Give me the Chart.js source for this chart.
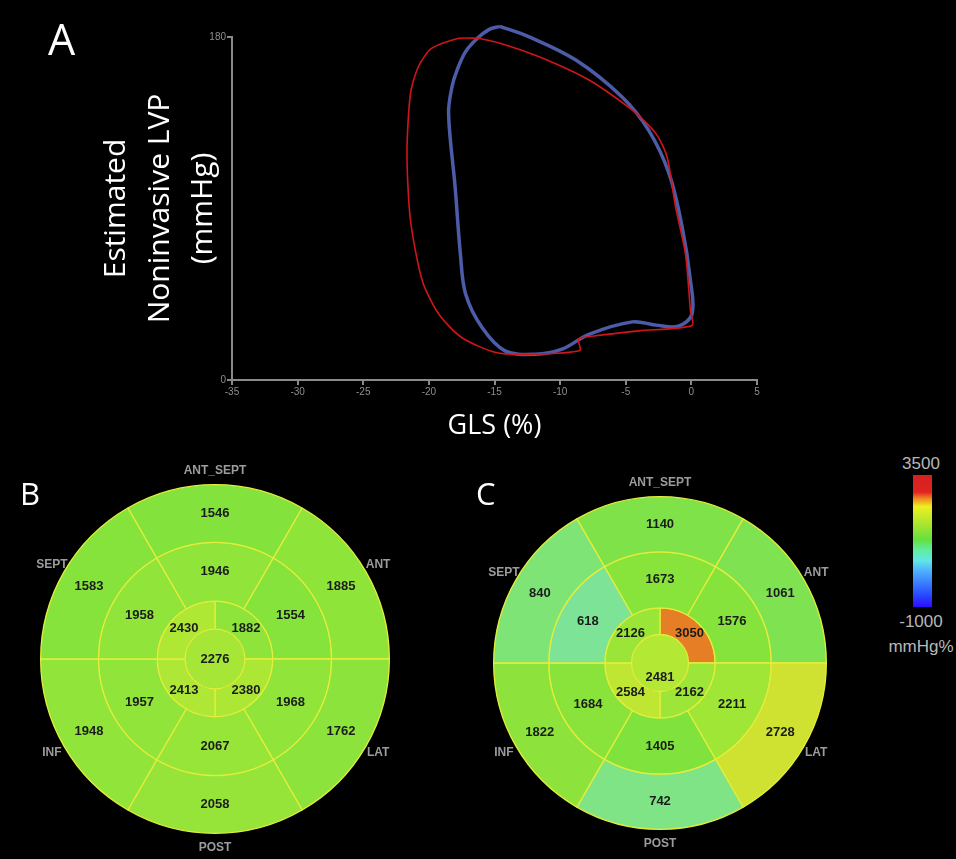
<!DOCTYPE html>
<html>
<head>
<meta charset="utf-8">
<script src="https://cdn.jsdelivr.net/npm/chart.js@4.4.1/dist/chart.umd.min.js"></script>
<style>
  body { margin: 0; background: #000; width: 956px; height: 859px; position: relative; overflow: hidden; }
  canvas { position: absolute; }
  .panel { position: absolute; color: #fff; font-family: "Open Sans", sans-serif; line-height: 1; }
  .cb { position: absolute; left: 871px; width: 100px; text-align: center; color: #b8b8b8;
        font-family: "Liberation Sans", Arial, sans-serif; font-size: 17px; line-height: 1; }
</style>
</head>
<body>
<canvas id="loopChart" width="956" height="450" style="left:0;top:0"></canvas>
<canvas id="bullB" width="420" height="400" style="left:5px;top:459px"></canvas>
<canvas id="bullC" width="400" height="374" style="left:460px;top:476px"></canvas>
<canvas id="colorBar" width="19" height="132" style="left:913px;top:475px"></canvas>

<div class="panel" style="left:48px;top:17px;font-size:43px">A</div>
<div class="panel" style="left:20px;top:478px;font-size:31px">B</div>
<div class="panel" style="left:476px;top:478px;font-size:31px">C</div>
<div class="cb" style="top:455px">3500</div>
<div class="cb" style="top:613px">-1000</div>
<div class="cb" style="top:638px">mmHg%</div>

<script>
// pressure-strain loops (GLS %, LVP mmHg), traced clockwise from the top
const redGLS = [-16.2, -14.7, -11.6, -7.8, -4.5, -2.7, -1.85, -1.2, -0.45, -0.07, 0.05, -4.0, -7.3, -8.6, -8.5, -12.4, -14.9, -17.5, -19.25, -20.5, -21.4, -21.67, -21.4, -20.8, -19.8, -17.7, -16.2];
const redLVP = [179.3, 177, 169.6, 157.4, 141.6, 129.3, 117, 90.7, 66.2, 36.3, 28.6, 25.8, 23.2, 21.5, 15.5, 13.5, 14.4, 22.3, 34.6, 52.1, 83.7, 118.8, 150.4, 164.4, 174, 179.3, 179.3];
const blueGLS = [-14.6, -12.4, -8.8, -5.3, -3.25, -1.7, -0.7, -0.07, 0.05, -1.0, -2.7, -4.5, -7.8, -9.85, -11.9, -14.2, -15.95, -17.2, -17.6, -18.0, -18.5, -18.24, -17.85, -17.2, -16.3, -15.4, -14.6];
const blueLVP = [185.6, 180.2, 167.9, 148.6, 131, 108.3, 80.2, 52.1, 34.6, 28.2, 28.8, 30.5, 24.0, 16.2, 13.5, 15.3, 27.5, 45.1, 66.2, 101.2, 139.8, 153.8, 162.6, 172.3, 179.3, 184, 185.6];
const glsTicks = [-35, -30, -25, -20, -15, -10, -5, 0, 5];
const lvpTicks = [0, 180];

// 17-segment bullseye values (mmHg%), each ring clockwise from the top
const wallNames = ['ANT_SEPT', 'ANT', 'LAT', 'POST', 'INF', 'SEPT'];
const basalB = [1546, 1885, 1762, 2058, 1948, 1583];
const midB = [1946, 1554, 1968, 2067, 1957, 1958];
const apicalB = [1882, 2380, 2413, 2430];
const apexB = [2276];
const basalC = [1140, 1061, 2728, 742, 1822, 840];
const midC = [1673, 1576, 2211, 1405, 1684, 618];
const apicalC = [3050, 2162, 2584, 2126];
const apexC = [2481];
const heatRange = [-1000, 3500];

const heatStops = [
  [-1000, '#2a10ff'], [0, '#60c0ff'], [500, '#7ce4a8'], [800, '#7ee47c'], [1100, '#7ee24a'], [1400, '#80e23c'],
  [2000, '#92e43a'], [2500, '#b4e834'], [2800, '#d8e030'], [3100, '#e86a22'], [3500, '#d41a1a']
];
function hexRgb(h) { return [1, 3, 5].map(i => parseInt(h.slice(i, i + 2), 16)); }
function heat(v) {
  for (let i = 1; i < heatStops.length; i++) {
    if (v <= heatStops[i][0]) {
      const [v0, c0] = heatStops[i - 1], [v1, c1] = heatStops[i];
      const t = Math.max(0, (v - v0) / (v1 - v0));
      const a = hexRgb(c0), b = hexRgb(c1);
      return 'rgb(' + a.map((x, k) => Math.round(x + (b[k] - x) * t)).join(',') + ')';
    }
  }
  return heatStops[heatStops.length - 1][1];
}

Chart.defaults.font.family = '"Liberation Sans", Arial, sans-serif';

new Chart(document.getElementById('loopChart'), {
  type: 'scatter',
  data: {
    datasets: [{
      data: redGLS.map((x, i) => ({x: x, y: redLVP[i]})),
      showLine: true, borderColor: '#d0161b', borderWidth: 1.6, pointRadius: 0, tension: 0.25, clip: false
    }, {
      data: blueGLS.map((x, i) => ({x: x, y: blueLVP[i]})),
      showLine: true, borderColor: '#4d5ca8', borderWidth: 3.5, pointRadius: 0, tension: 0.35, clip: false
    }]
  },
  options: {
    responsive: false,
    animation: false,
    layout: { padding: { left: 90, right: 199, top: 37, bottom: 0 } },
    plugins: { legend: { display: false }, tooltip: { enabled: false } },
    scales: {
      x: {
        type: 'linear', min: glsTicks[0], max: glsTicks[glsTicks.length - 1],
        afterBuildTicks: s => { s.ticks = glsTicks.map(v => ({value: v})); },
        afterFit: s => { s.height = 70; },
        ticks: { color: '#8e8e8e', font: { size: 10 }, padding: 1 },
        grid: { drawOnChartArea: false, drawTicks: true, tickLength: 5, color: '#8a8a8a', lineWidth: 2 },
        border: { color: '#8a8a8a', width: 2 },
        title: { display: true, text: 'GLS (%)', color: '#fff',
                 font: { family: '"Open Sans", sans-serif', size: 27 }, padding: { top: 0, bottom: 7 } }
      },
      y: {
        type: 'linear', min: lvpTicks[0], max: lvpTicks[1],
        afterBuildTicks: s => { s.ticks = lvpTicks.map(v => ({value: v})); },
        afterFit: s => { s.width = 142; },
        ticks: { color: '#8e8e8e', font: { size: 10 }, padding: 1 },
        grid: { drawOnChartArea: false, drawTicks: true, tickLength: 5, color: '#8a8a8a', lineWidth: 2 },
        border: { color: '#8a8a8a', width: 2 },
        title: { display: true, text: ['Estimated', 'Noninvasive LVP', '(mmHg)'], color: '#fff',
                 font: { family: '"Open Sans", sans-serif', size: 30, lineHeight: 1.45 }, padding: { top: 5, bottom: 0 } }
      }
    }
  }
});

// wall names behind the disc, segment values on top of it
const bullseyeText = {
  id: 'bullseyeText',
  beforeDatasetsDraw(chart) {
    const arc = chart.getDatasetMeta(0).data[0];
    const ctx = chart.ctx;
    const r = arc.outerRadius + 14;
    ctx.save();
    ctx.font = 'bold 12px "Liberation Sans", Arial, sans-serif';
    ctx.fillStyle = '#9c9c9c';
    ctx.textAlign = 'center';
    ctx.textBaseline = 'middle';
    wallNames.forEach((name, i) => {
      const a = i * Math.PI / 3;
      ctx.fillText(name, arc.x + r * Math.sin(a), arc.y - r * Math.cos(a));
    });
    ctx.restore();
  },
  afterDatasetsDraw(chart) {
    const ctx = chart.ctx;
    ctx.save();
    ctx.font = 'bold 13px "Liberation Sans Narrow", "Liberation Sans", Arial, sans-serif';
    ctx.fillStyle = '#1c1c1c';
    ctx.textAlign = 'center';
    ctx.textBaseline = 'middle';
    chart.data.datasets.forEach((ds, d) => {
      chart.getDatasetMeta(d).data.forEach((el, i) => {
        const p = el.innerRadius === 0 ? {x: el.x, y: el.y} : el.tooltipPosition();
        ctx.fillText(String(ds.values[i]), p.x, p.y);
      });
    });
    ctx.restore();
  }
};

function ring(vals, rotation, weight, bw) {
  return {
    data: vals.map(() => 1), // equal-sized segments
    values: vals,
    rotation: rotation,
    weight: weight,
    backgroundColor: vals.map(heat),
    borderColor: '#e4ee3a',
    borderWidth: bw
  };
}

function bullseye(id, basal, mid, apical, apex, pad) {
  return new Chart(document.getElementById(id), {
    type: 'doughnut',
    data: {
      datasets: [ring(basal, -30, 58, 1.3), ring(mid, -30, 59, 1.3), ring(apical, 0, 28, 1.3), ring(apex, 0, 30, 0)]
    },
    options: {
      responsive: false,
      animation: false,
      cutout: 0,
      layout: { padding: pad },
      plugins: { legend: { display: false }, tooltip: { enabled: false } }
    },
    plugins: [bullseyeText]
  });
}

bullseye('bullB', basalB, midB, apicalB, apexB, { left: 35, right: 35, top: 25, bottom: 25 });
bullseye('bullC', basalC, midC, apicalC, apexC, { left: 33, right: 33, top: 20, bottom: 20 });

// colour scale
const barStops = [[0, '#2e0cff'], [0.1, '#2850ff'], [0.28, '#50b4ff'], [0.35, '#60e6e6'], [0.43, '#60eca0'],
  [0.51, '#64e040'], [0.61, '#a0e430'], [0.76, '#eef020'], [0.82, '#f08c20'], [0.87, '#e02420'], [1, '#d42020']];
new Chart(document.getElementById('colorBar'), {
  type: 'bar',
  data: {
    labels: ['mmHg%'],
    datasets: [{
      data: [heatRange],
      backgroundColor: c => {
        const a = c.chart.chartArea;
        if (!a) return '#7fe23e';
        const g = c.chart.ctx.createLinearGradient(0, a.bottom, 0, a.top);
        barStops.forEach(s => g.addColorStop(s[0], s[1]));
        return g;
      },
      borderWidth: 0,
      barPercentage: 1,
      categoryPercentage: 1
    }]
  },
  options: {
    responsive: false,
    animation: false,
    layout: { padding: 0 },
    plugins: { legend: { display: false }, tooltip: { enabled: false } },
    scales: {
      x: { display: false },
      y: { display: false, min: heatRange[0], max: heatRange[1] }
    }
  }
});
</script>
</body>
</html>
